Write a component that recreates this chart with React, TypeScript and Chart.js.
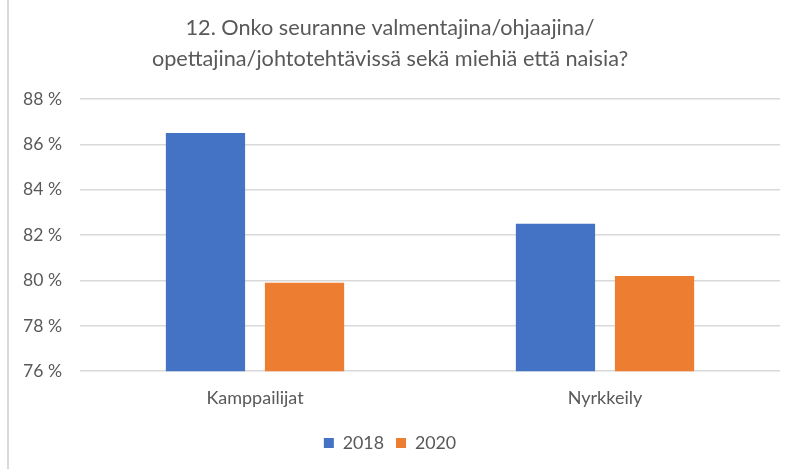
import React, { useEffect, useRef } from "react";
import { Chart, registerables } from "chart.js";

Chart.register(...registerables);

const categories = ["Kamppailijat", "Nyrkkeily"];
const seriesLabels = ["2018", "2020"];
const values2018 = [86.5, 82.5];
const values2020 = [79.9, 80.2];
const titleLines = [
  "12. Onko seuranne valmentajina/ohjaajina/",
  "opettajina/johtotehtävissä sekä miehiä että naisia?",
];
const yMin = 76;
const yMax = 88;
const yStep = 2;

const FONT = "Lato";
const TEXT = "#595959";

export default function App() {
  const ref = useRef<HTMLCanvasElement>(null);
  useEffect(() => {
    document.body.style.margin = "0";
    const chart = new Chart(ref.current as HTMLCanvasElement, {
      type: "bar",
      data: {
        labels: categories,
        datasets: [
          { label: seriesLabels[0], data: values2018, backgroundColor: "#4472C4" },
          { label: seriesLabels[1], data: values2020, backgroundColor: "#ED7D31" },
        ],
      },
      options: {
        animation: false,
        responsive: false,
        layout: { padding: { top: 0, right: 15, bottom: 7, left: 0 } },
        datasets: { bar: { categoryPercentage: 0.566, barPercentage: 0.8 } },
        plugins: {
          title: {
            display: true,
            text: titleLines,
            color: TEXT,
            font: { family: FONT, size: 21.7, weight: "normal", lineHeight: 31 / 21.7 },
            padding: { top: 13, bottom: 24 },
          },
          legend: {
            position: "bottom",
            labels: {
              boxWidth: 10,
              boxHeight: 10,
              color: TEXT,
              font: { family: FONT, size: 17.8 },
              padding: 12,
            },
          },
          tooltip: { enabled: false },
        },
        scales: {
          x: {
            grid: { display: false },
            border: { display: false },
            ticks: { color: TEXT, font: { family: FONT, size: 18 }, padding: 8 },
            afterFit: (s: any) => {
              s.height = 51;
            },
          },
          y: {
            min: yMin,
            max: yMax,
            ticks: {
              stepSize: yStep,
              color: TEXT,
              font: { family: FONT, size: 17.6 },
              padding: 18,
              callback: (v: any) => v + " %",
            },
            grid: { color: "#d9d9d9", lineWidth: 1.5, drawTicks: false },
            border: { display: false },
            afterFit: (s: any) => {
              s.width = 80;
            },
          },
        },
      },
    });
    return () => chart.destroy();
  }, []);
  return (
    <div style={{ position: "relative", width: 795, height: 469, background: "#fff" }}>
      <div style={{ position: "absolute", left: 7, top: 0, width: 2, height: 469, background: "#d9d9d9" }} />
      <canvas ref={ref} width={795} height={469} style={{ position: "absolute", left: 0, top: 0 }} />
    </div>
  );
}
